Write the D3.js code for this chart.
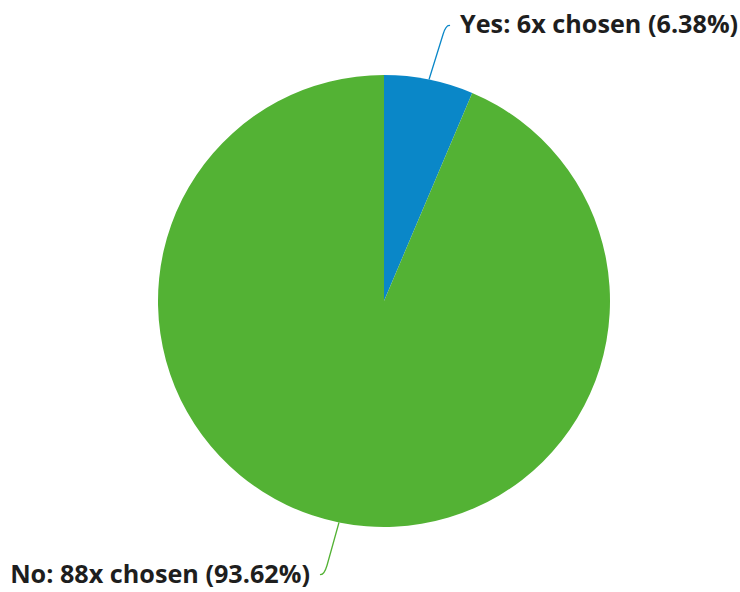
<!DOCTYPE html>
<html>
<head>
<meta charset="utf-8">
<script src="https://cdn.jsdelivr.net/npm/d3@7"></script>
<style>
  html, body { margin: 0; padding: 0; background: #fff; }
  text { font-family: "Open Sans", "Noto Sans", sans-serif; font-weight: bold; }
</style>
</head>
<body>
<div id="chart"></div>
<script>
// Answer categories and how often each was picked.
const answers = ["Yes", "No"];
const counts = [6, 88];
const percents = ["6.38%", "93.62%"];
const colors = ["#0a87c8", "#53b234"];

const width = 740, height = 592;
const cx = 384, cy = 301, radius = 226;

const svg = d3.select("#chart")
  .append("svg")
    .attr("width", width)
    .attr("height", height);

const g = svg.append("g")
  .attr("transform", "translate(" + cx + "," + cy + ")");

const data = answers.map((a, i) => ({ answer: a, count: counts[i], pct: percents[i], color: colors[i] }));

const pie = d3.pie().sort(null).value(d => d.count);
const arc = d3.arc().innerRadius(0).outerRadius(radius);
const arcs = pie(data);

// Slices.
g.selectAll("path.slice")
  .data(arcs)
  .enter()
  .append("path")
    .attr("class", "slice")
    .attr("d", arc)
    .attr("fill", d => d.data.color);

// Label placement: where the text sits relative to the slice's outer point.
const labelPos = [
  { dx: 31, dy: -47, anchor: "start" },   // Yes: up and right
  { dx: -29, dy: 61, anchor: "end" }      // No: down and left
];

arcs.forEach((d, i) => {
  const mid = (d.startAngle + d.endAngle) / 2;
  const sx = Math.sin(mid) * radius, sy = -Math.cos(mid) * radius;
  const p = labelPos[i];
  const up = sy < 0 ? -1 : 1;
  const side = p.anchor === "start" ? 1 : -1;
  const tx = sx + p.dx, ty = sy + p.dy;

  // Connector: mostly straight lead-in, then a short bend toward the label.
  const path = d3.path();
  path.moveTo(sx, sy);
  const ex = tx - side * 10, ey = ty - 8;
  path.lineTo(ex - side * 7, ey - up * 10);
  path.quadraticCurveTo(ex - side * 4, ey, ex, ey - up * 1);
  g.append("path")
    .attr("d", path.toString())
    .attr("fill", "none")
    .attr("stroke", d.data.color)
    .attr("stroke-width", 1.3);

  g.append("text")
    .attr("x", tx)
    .attr("y", ty)
    .attr("text-anchor", p.anchor)
    .attr("fill", "#1e1e1e")
    .attr("font-size", "25.2px")
    .text(d.data.answer + ": " + d.data.count + "x chosen (" + d.data.pct + ")");
});
</script>
</body>
</html>
